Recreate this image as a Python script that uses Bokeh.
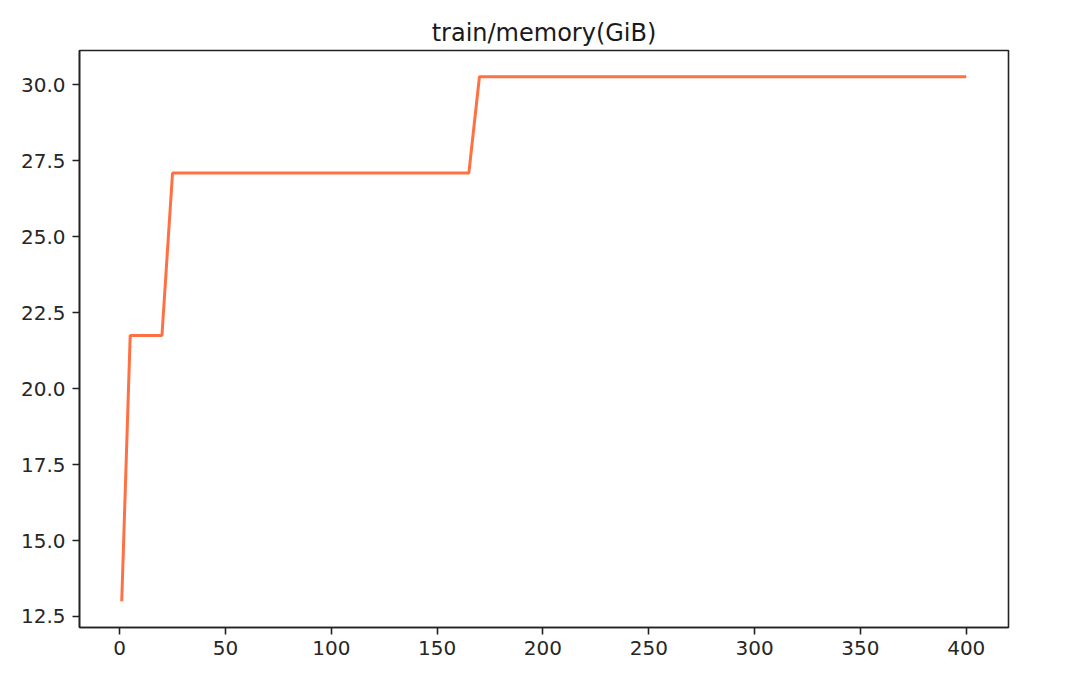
from bokeh.plotting import figure
from bokeh.models import Range1d, FixedTicker, NumeralTickFormatter, Title
from bokeh.embed import file_html
from bokeh.resources import INLINE

# data
steps = [1, 5, 20, 25, 165, 170, 400]
memory_gib = [13.0, 21.75, 21.75, 27.1, 27.1, 30.27, 30.27]
x_ticks = [0, 50, 100, 150, 200, 250, 300, 350, 400]
y_ticks = [12.5, 15.0, 17.5, 20.0, 22.5, 25.0, 27.5, 30.0]
title_text = "train/memory(GiB)"

xmin, xmax = min(steps), max(steps)
ymin, ymax = min(memory_gib), max(memory_gib)
xm = (xmax - xmin) * 0.05
ym = (ymax - ymin) * 0.05

p = figure(width=1067, height=668, output_backend="svg", toolbar_location=None,
           x_range=Range1d(xmin - xm, xmax + xm), y_range=Range1d(ymin - ym, ymax + ym),
           min_border_left=79, min_border_right=59, min_border_top=50, min_border_bottom=41)

p.title = Title(text=title_text, align="center", text_font="DejaVu Sans",
                text_font_size="24px", text_font_style="normal", text_color="#1a1a1a",
                standoff=8)

p.line(steps, memory_gib, line_color="#ff7043", line_width=3)

p.xgrid.visible = False
p.ygrid.visible = False
p.outline_line_color = "#222222"
p.outline_line_width = 1.6
p.outline_line_alpha = 1.0

p.xaxis.ticker = FixedTicker(ticks=x_ticks)
p.yaxis.ticker = FixedTicker(ticks=y_ticks)
p.yaxis.formatter = NumeralTickFormatter(format="0.0")
for ax in (p.xaxis, p.yaxis):
    ax.major_tick_out = 7
    ax.major_tick_in = 0
    ax.minor_tick_line_color = None
    ax.major_tick_line_width = 1.6
    ax.major_tick_line_color = "#222222"
    ax.axis_line_color = "#222222"
    ax.axis_line_width = 1.6
    ax.major_label_text_font = "DejaVu Sans"
    ax.major_label_text_font_size = "20px"
    ax.major_label_text_color = "#262626"
p.yaxis.major_label_standoff = 7
p.xaxis.major_label_standoff = 6

open("out.html", "w").write(file_html(p, INLINE))
